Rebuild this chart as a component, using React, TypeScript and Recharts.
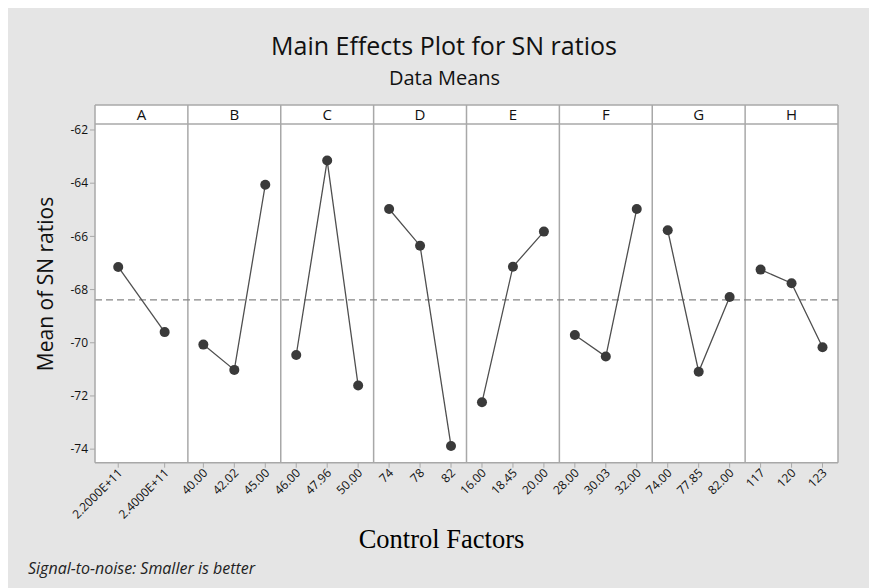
import React from 'react';
import {
  LineChart,
  Line,
  XAxis,
  YAxis,
  ReferenceLine,
  ReferenceArea
} from 'recharts';

// factor names (panel headers)
const FACTORS = ['A', 'B', 'C', 'D', 'E', 'F', 'G', 'H'];

// level labels per factor
const levelsA = ['2.2000E+11', '2.4000E+11'];
const levelsB = ['40.00', '42.02', '45.00'];
const levelsC = ['46.00', '47.96', '50.00'];
const levelsD = ['74', '78', '82'];
const levelsE = ['16.00', '18.45', '20.00'];
const levelsF = ['28.00', '30.03', '32.00'];
const levelsG = ['74.00', '77.85', '82.00'];
const levelsH = ['117', '120', '123'];

// mean of SN ratios per level
const snA = [-67.15, -69.6];
const snB = [-70.07, -71.02, -64.06];
const snC = [-70.46, -63.15, -71.61];
const snD = [-64.97, -66.35, -73.88];
const snE = [-72.24, -67.14, -65.82];
const snF = [-69.71, -70.52, -64.97];
const snG = [-65.77, -71.09, -68.28];
const snH = [-67.25, -67.76, -70.17];

const OVERALL_MEAN = -68.39;
const Y_TICKS = [-74, -72, -70, -68, -66, -64, -62];

const LEVELS = [levelsA, levelsB, levelsC, levelsD, levelsE, levelsF, levelsG, levelsH];
const SN = [snA, snB, snC, snD, snE, snF, snG, snH];

// y range of the plot body and the header strip
const Y_MIN = -74.51;
const HEADER_BOTTOM = -61.774;
const HEADER_TOP = -61.06;

const series = FACTORS.map((name, f) => ({
  name,
  data: LEVELS[f].map((lvl, i) => ({
    x: f + (i + 0.5) / LEVELS[f].length,
    y: SN[f][i],
    level: lvl
  }))
}));

const allPoints = series.flatMap(s => s.data);
const xTicks = allPoints.map(p => p.x);

const GRID = '#a8a8a8';
const TEXT = '#111111';
const FONT = '"Open Sans", sans-serif';

function levelFor(value: number) {
  const p = allPoints.find(d => Math.abs(d.x - value) < 1e-6);
  return p ? p.level : '';
}

function XTick(props: any) {
  const { x, y, payload } = props;
  return (
    <g transform={`translate(${x + 2},${y + 1}) rotate(-45)`}>
      <text
        x={0}
        y={0}
        dy="0.35em"
        textAnchor="end"
        fontSize={12}
        fontFamily={FONT}
        fill={TEXT}
      >
        {levelFor(payload.value)}
      </text>
    </g>
  );
}

export default function App() {
  return (
    <div
      style={{
        position: 'fixed',
        left: 8,
        top: 8,
        width: 861,
        height: 580,
        background: '#e5e5e5'
      }}
    >
      <LineChart
        width={861}
        height={580}
        margin={{ top: 97, right: 31, left: 47, bottom: 65.3 }}
      >
        {/* white plot body */}
        <ReferenceArea
          x1={0}
          x2={8}
          y1={Y_MIN}
          y2={HEADER_TOP}
          fill="#ffffff"
          fillOpacity={1}
          stroke="none"
        />
        <XAxis
          type="number"
          dataKey="x"
          domain={[0, 8]}
          ticks={xTicks}
          interval={0}
          allowDataOverflow
          tick={<XTick />}
          tickSize={5}
          height={60}
          stroke={GRID}
          axisLine={{ stroke: GRID, strokeWidth: 1.5 }}
          tickLine={{ stroke: GRID }}
        />
        <YAxis
          type="number"
          dataKey="y"
          domain={[Y_MIN, HEADER_TOP]}
          ticks={Y_TICKS}
          allowDataOverflow
          width={40}
          tickSize={5}
          axisLine={{ stroke: GRID, strokeWidth: 1.5 }}
          tickLine={{ stroke: GRID }}
          tick={{ fontSize: 12, fill: TEXT, fontFamily: FONT }}
        />
        {FACTORS.map((name, f) => (
          <ReferenceArea
            key={`h-${name}`}
            x1={f}
            x2={f + 1}
            y1={HEADER_BOTTOM}
            y2={HEADER_TOP}
            fill="#ffffff"
            fillOpacity={1}
            stroke="none"
            label={{ value: name, position: 'center', fontSize: 15, fill: TEXT, fontFamily: FONT }}
          />
        ))}
        <ReferenceLine y={HEADER_BOTTOM} stroke={GRID} strokeWidth={1.5} />
        <ReferenceLine y={HEADER_TOP} stroke={GRID} strokeWidth={1.5} />
        {[1, 2, 3, 4, 5, 6, 7, 8].map(v => (
          <ReferenceLine key={`v-${v}`} x={v} stroke={GRID} strokeWidth={1.5} />
        ))}
        <ReferenceLine
          y={OVERALL_MEAN}
          stroke="#858585"
          strokeDasharray="7 4"
          strokeWidth={1.2}
        />
        {series.map(s => (
          <Line
            key={s.name}
            data={s.data}
            dataKey="y"
            type="linear"
            stroke="#4f4f4f"
            strokeWidth={1.3}
            dot={{ r: 5, fill: '#3a3a3a', stroke: '#3a3a3a', strokeWidth: 0 }}
            activeDot={false}
            isAnimationActive={false}
          />
        ))}
      </LineChart>
      <svg
        width={861}
        height={580}
        style={{ position: 'absolute', left: 0, top: 0, pointerEvents: 'none' }}
      >
        <text x={436} y={47} textAnchor="middle" fontSize={25} fontFamily={FONT} fill={TEXT}>
          Main Effects Plot for SN ratios
        </text>
        <text x={436.5} y={77.3} textAnchor="middle" fontSize={20} fontFamily={FONT} fill={TEXT}>
          Data Means
        </text>
        <text
          transform="translate(45,276) rotate(-90)"
          textAnchor="middle"
          fontSize={21}
          fontFamily={FONT}
          fill={TEXT}
        >
          Mean of SN ratios
        </text>
        <text
          x={433.5}
          y={539.7}
          textAnchor="middle"
          fontSize={26.5}
          fontFamily='"Liberation Serif", serif'
          fill="#000"
        >
          Control Factors
        </text>
        <text
          x={20}
          y={566}
          fontSize={16}
          fontStyle="italic"
          fontFamily={FONT}
          fill="#222222"
        >
          Signal-to-noise: Smaller is better
        </text>
      </svg>
    </div>
  );
}
